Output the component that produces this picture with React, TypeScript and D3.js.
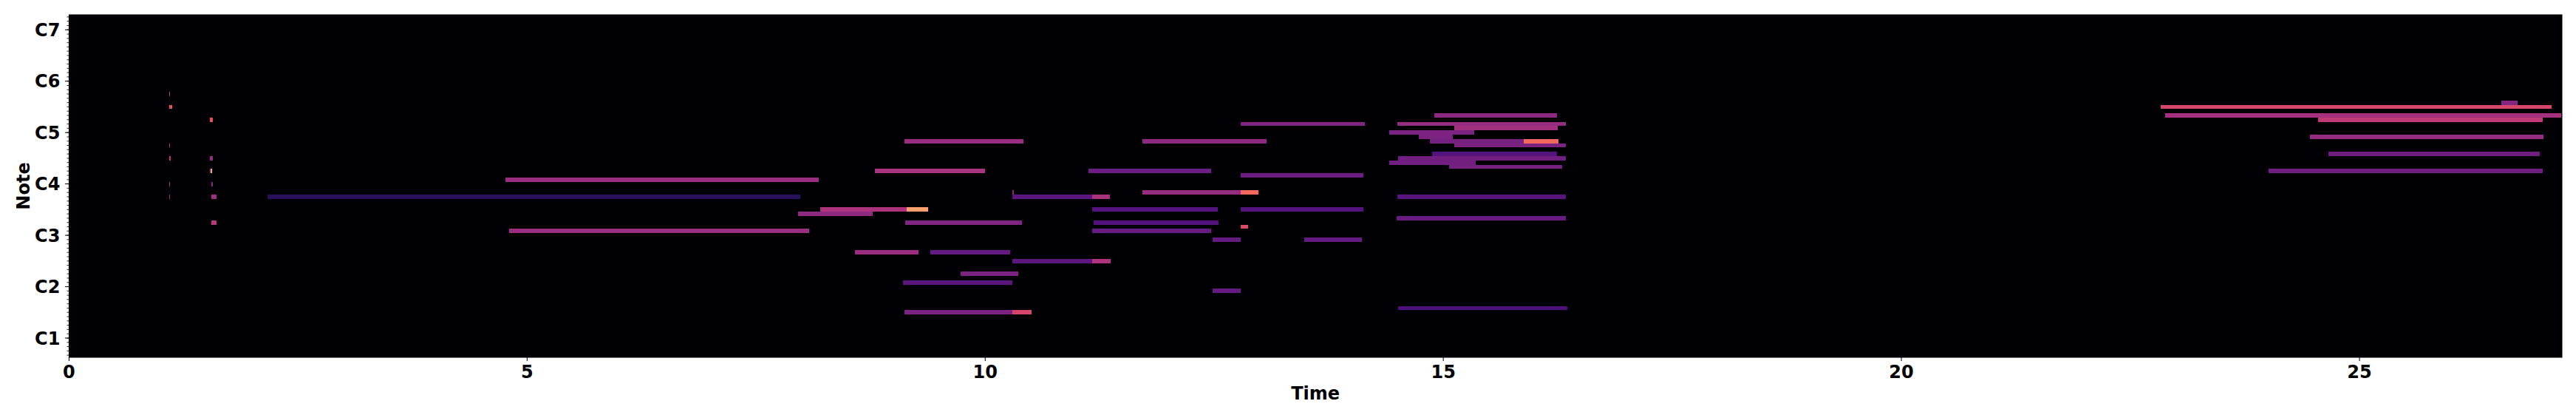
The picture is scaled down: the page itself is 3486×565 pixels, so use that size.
import React from "react";
import * as d3 from "d3";

// MIDI pitch, start time (s), end time (s), level (0..1, magma colour)
const earlyPitch = [81, 78, 69, 66, 60, 57, 75, 66, 63, 63, 60, 57, 51];
const earlyStart = [1.094, 1.094, 1.094, 1.094, 1.094, 1.094, 1.537, 1.537, 1.537, 1.553, 1.553, 1.553, 1.553];
const earlyEnd = [1.102, 1.126, 1.102, 1.110, 1.102, 1.102, 1.569, 1.569, 1.553, 1.561, 1.569, 1.610, 1.610];
const earlyLevel = [0.5, 0.62, 0.5, 0.52, 0.48, 0.46, 0.62, 0.42, 0.55, 0.97, 0.4, 0.45, 0.5];

const midPitch = [57, 61, 49, 54, 54, 53, 70, 63, 51, 44, 44, 42, 42, 39, 37, 30, 30, 57, 57, 58,
  63, 70, 74, 62, 58, 58, 54, 54, 51, 49, 50, 47, 47, 35];
const midStart = [2.166, 4.76, 4.80, 8.20, 9.14, 7.96, 9.12, 8.80, 9.13, 8.58, 9.40, 10.30, 11.17, 9.73, 9.10, 9.12, 10.30, 10.30, 11.17, 10.30,
  11.13, 11.72, 12.79, 12.79, 11.72, 12.79, 11.17, 12.79, 11.18, 11.17, 12.79, 12.48, 13.48, 12.48];
const midEnd = [7.98, 8.18, 8.08, 9.14, 9.38, 8.77, 10.42, 10.00, 10.40, 9.27, 10.27, 11.17, 11.37, 10.36, 10.30, 10.30, 10.51, 11.17, 11.36, 10.315,
  12.47, 13.07, 14.14, 14.13, 12.79, 12.98, 12.54, 14.13, 12.55, 12.47, 12.87, 12.79, 14.11, 12.79];
const midLevel = [0.16, 0.44, 0.44, 0.48, 0.8, 0.41, 0.43, 0.47, 0.37, 0.44, 0.3, 0.28, 0.48, 0.36, 0.28, 0.36, 0.58, 0.28, 0.47, 0.38,
  0.32, 0.4, 0.37, 0.32, 0.42, 0.68, 0.26, 0.26, 0.25, 0.3, 0.6, 0.3, 0.3, 0.3];

const clusterPitch = [76, 74, 73, 72, 71, 70, 70, 69, 67, 66, 65, 64, 57, 52, 31];
const clusterStart = [14.90, 14.50, 15.12, 14.41, 14.73, 14.85, 15.88, 15.12, 14.88, 14.51, 14.41, 15.06, 14.50, 14.49, 14.51];
const clusterEnd = [16.24, 16.34, 16.25, 15.34, 15.10, 15.88, 16.26, 16.34, 16.24, 16.34, 15.35, 16.30, 16.34, 16.34, 16.35];
const clusterLevel = [0.4, 0.42, 0.45, 0.36, 0.36, 0.34, 0.68, 0.36, 0.26, 0.33, 0.33, 0.34, 0.27, 0.31, 0.24];

const latePitch = [78, 76, 79, 75, 71, 67, 63];
const lateStart = [22.83, 22.88, 26.55, 24.55, 24.46, 24.66, 24.01];
const lateEnd = [27.10, 27.20, 26.73, 27.00, 27.01, 26.97, 27.00];
const lateLevel = [0.58, 0.46, 0.38, 0.52, 0.42, 0.33, 0.33];

const timeTicks = [0, 5, 10, 15, 20, 25];
const noteTicks = [24, 36, 48, 60, 72, 84, 96];
const noteTickLabels = ["C1", "C2", "C3", "C4", "C5", "C6", "C7"];
const timeMax = 27.21;
const pitchLow = 19.5;
const pitchHigh = 99.5;

type Note = { p: number; s: number; e: number; v: number };
function build(p: number[], s: number[], e: number[], v: number[]): Note[] {
  return p.map((pp, i) => ({ p: pp, s: s[i], e: e[i], v: v[i] }));
}
const notes: Note[] = [
  ...build(earlyPitch, earlyStart, earlyEnd, earlyLevel),
  ...build(midPitch, midStart, midEnd, midLevel),
  ...build(clusterPitch, clusterStart, clusterEnd, clusterLevel),
  ...build(latePitch, lateStart, lateEnd, lateLevel),
];

const W = 3486;
const H = 565;
const left = 93.4;
const right = 3467;
const top = 20;
const bottom = 483;
const FONT = "'DejaVu Sans', sans-serif";

export default function App() {
  const x = d3.scaleLinear().domain([0, timeMax]).range([left, right]);
  const y = d3.scaleLinear().domain([pitchLow, pitchHigh]).range([bottom, top]);
  const minor = d3.range(Math.ceil(pitchLow), Math.floor(pitchHigh) + 1);

  return (
    <div style={{ position: "absolute", left: 0, top: 0 }}>
      <svg width={W} height={H} style={{ display: "block", background: "#fff" }}>
        <rect x={left} y={top} width={right - left} height={bottom - top} fill={d3.interpolateMagma(0)} />
        <g shapeRendering="crispEdges">
          {notes.map((n, i) => (
            <rect
              key={i}
              x={x(n.s)}
              width={Math.max(1, x(n.e) - x(n.s))}
              y={y(n.p + 0.5)}
              height={y(n.p - 0.5) - y(n.p + 0.5)}
              fill={d3.interpolateMagma(n.v)}
            />
          ))}
        </g>
        <rect x={left} y={top} width={right - left} height={bottom - top} fill="none" stroke="#000" strokeWidth={1} />
        {/* x axis */}
        <g>
          {timeTicks.map((t) => (
            <g key={t} transform={`translate(${x(t)},${bottom})`}>
              <line y1={0} y2={5} stroke="#000" strokeWidth={1} />
              <text y={28} textAnchor="middle" fontFamily={FONT} fontWeight="bold" fontSize={24} fill="#000">
                {t}
              </text>
            </g>
          ))}
          <text x={(left + right) / 2} y={540} textAnchor="middle" fontFamily={FONT} fontWeight="bold" fontSize={24} fill="#000">
            Time
          </text>
        </g>
        {/* y axis */}
        <g>
          {minor.map((m) => (
            <line key={"m" + m} x1={left - 3} x2={left} y1={y(m)} y2={y(m)} stroke="#000" strokeWidth={0.8} />
          ))}
          {noteTicks.map((m, i) => (
            <g key={m} transform={`translate(${left},${y(m)})`}>
              <line x1={-5.5} x2={0} stroke="#000" strokeWidth={1} />
              <text x={-12} dy="0.36em" textAnchor="end" fontFamily={FONT} fontWeight="bold" fontSize={24} fill="#000">
                {noteTickLabels[i]}
              </text>
            </g>
          ))}
          <text
            transform={`translate(40,${(top + bottom) / 2}) rotate(-90)`}
            textAnchor="middle"
            fontFamily={FONT}
            fontWeight="bold"
            fontSize={24}
            fill="#000"
          >
            Note
          </text>
        </g>
      </svg>
    </div>
  );
}
